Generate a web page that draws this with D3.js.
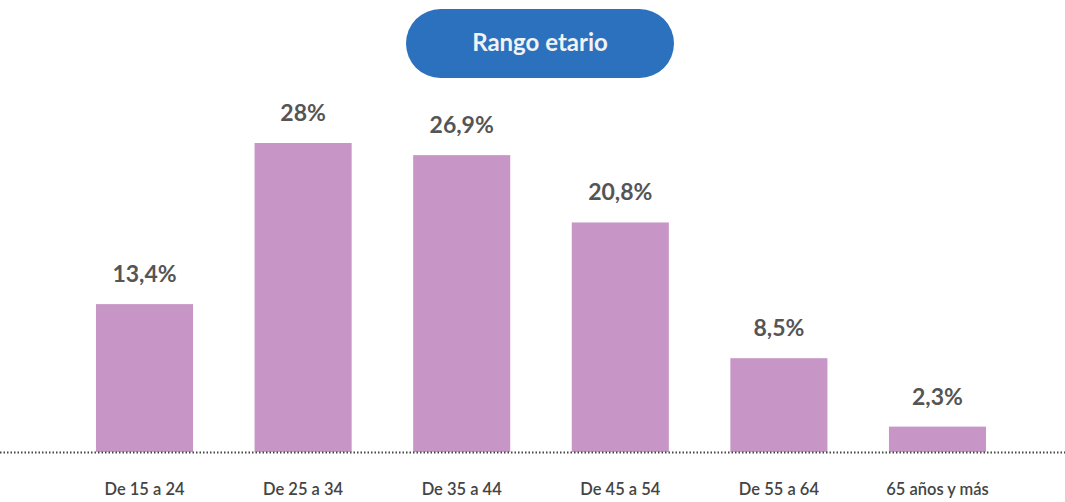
<!DOCTYPE html>
<html><head><meta charset="utf-8">
<script src="https://cdn.jsdelivr.net/npm/d3@7"></script>
<style>html,body{margin:0;padding:0;background:#fff;}svg{display:block;}</style>
</head><body><svg id="c" width="1065" height="502"></svg>
<script>
const categories = ["De 15 a 24","De 25 a 34","De 35 a 44","De 45 a 54","De 55 a 64","65 años y más"];
const values = [13.4, 28, 26.9, 20.8, 8.5, 2.3];
const valueLabels = ["13,4%","28%","26,9%","20,8%","8,5%","2,3%"];
const title = "Rango etario";

const svg = d3.select("#c");
const font = "Lato, 'Open Sans', sans-serif";
const baseY = 452;
const x = d3.scaleBand().domain(categories).range([65.2, 1016.8]).paddingInner(0.388).paddingOuter(0.194);
const y = d3.scaleLinear().domain([0, 28]).range([baseY, 143]);

// title pill
svg.append("rect").attr("x",406).attr("y",9).attr("width",268).attr("height",69).attr("rx",34.5)
  .attr("fill","#2b71bd");
svg.append("text").attr("x",540).attr("y",45).attr("text-anchor","middle").attr("dominant-baseline","middle")
  .attr("font-family",font).attr("font-weight",700).attr("font-size",24).attr("fill","#f2f2f2").text(title);

// bars
svg.selectAll("rect.bar").data(values).join("rect").attr("class","bar")
  .attr("x",(d,i)=>x(categories[i])).attr("width",x.bandwidth())
  .attr("y",d=>y(d)).attr("height",d=>baseY-y(d)).attr("fill","#c795c6");

// value labels
svg.selectAll("text.val").data(values).join("text").attr("class","val")
  .attr("x",(d,i)=>x(categories[i])+x.bandwidth()/2).attr("y",d=>y(d)-28)
  .attr("text-anchor","middle").attr("dominant-baseline","middle")
  .attr("font-family",font).attr("font-weight",700).attr("font-size",23).attr("fill","#555555")
  .text((d,i)=>valueLabels[i]);

// baseline dotted
svg.append("line").attr("x1",0).attr("x2",1065).attr("y1",baseY+0.5).attr("y2",baseY+0.5)
  .attr("stroke","#444").attr("stroke-width",2).attr("stroke-dasharray","1.5,2");

// axis
const ax = svg.append("g").attr("transform",`translate(0,${baseY})`).call(d3.axisBottom(x).tickSize(0).tickPadding(31));
ax.select(".domain").remove();
ax.selectAll("text").attr("font-family",font).attr("font-size",16.5).attr("font-weight",600).attr("fill","#444");
</script></body></html>
